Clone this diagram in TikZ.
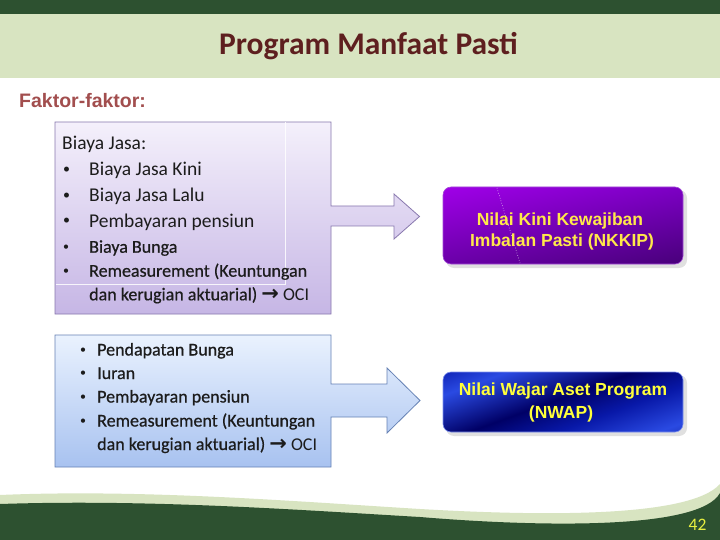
\documentclass[tikz,border=0pt]{standalone}
\usepackage{fontspec}
\usetikzlibrary{shadings}
\setmainfont{Carlito}
\newfontfamily\arialfont{Liberation Sans}
\newfontfamily\heavyfont[FakeBold=0.6]{Carlito}
\newfontfamily\dejavu{DejaVu Sans}
\definecolor{dkgreen}{HTML}{2D5130}
\definecolor{ltgreen}{HTML}{D8E4C1}
\definecolor{titlered}{HTML}{5E1F1F}
\definecolor{faktorred}{HTML}{A24E4E}
\definecolor{lavtop}{HTML}{F4F0FB}
\definecolor{lavbot}{HTML}{C6B6E5}
\definecolor{lavborder}{HTML}{8878AE}
\definecolor{bluetop}{HTML}{EAF2FE}
\definecolor{bluebot}{HTML}{A8C2F0}
\definecolor{blueborder}{HTML}{6682B5}
\definecolor{purA}{HTML}{A000E8}
\definecolor{purB}{HTML}{7C00C4}
\definecolor{purC}{HTML}{6A00A8}
\definecolor{purD}{HTML}{48007A}
\definecolor{nw1}{HTML}{000066}
\definecolor{nw2}{HTML}{2A4AE2}
\definecolor{nw3}{HTML}{0818A8}
\definecolor{yelA}{HTML}{FFE84A}
\definecolor{yelB}{HTML}{FFFF3A}
\definecolor{pagenum}{HTML}{E8F040}
\definecolor{txt}{HTML}{1C1C1C}
\pgfdeclarehorizontalshading{nwapsh}{100bp}{color(0bp)=(nw1); color(22bp)=(nw2); color(38bp)=(nw3); color(52bp)=(nw1); color(72bp)=(nw2); color(86bp)=(nw3); color(100bp)=(nw1)}
\tikzset{
  bodytxt/.style={anchor=base west, inner sep=0pt, text=txt, font=\fontsize{19.5}{23}\selectfont},
  smalltxt/.style={anchor=base west, inner sep=0pt, text=txt, font=\heavyfont\fontsize{18}{21}\selectfont},
  bigbul/.style={anchor=base west, inner sep=0pt, text=txt, font=\fontsize{14}{14}\selectfont},
  smallbul/.style={anchor=base west, inner sep=0pt, text=txt, font=\fontsize{12}{12}\selectfont},
  valtxt/.style={anchor=base, inner sep=0pt, font=\arialfont\bfseries\fontsize{17.5}{21}\selectfont},
}
\newcommand{\ociarrow}{{\dejavu\bfseries\fontsize{21}{21}\selectfont →}}
\begin{document}
\begin{tikzpicture}[x=1pt,y=-1pt]
\useasboundingbox (0,0) rectangle (720,540);
\fill[white] (0,0) rectangle (720,540);
% header
\fill[dkgreen] (0,0) rectangle (720,14);
\fill[ltgreen] (0,14) rectangle (720,78);
\node[font=\bfseries\fontsize{31.5}{36}\selectfont, text=titlered, inner sep=0pt] (title) at (368.5,46) {Program Manfaat Pasti};
\node[anchor=west, inner sep=0pt, font=\arialfont\bfseries\fontsize{19.5}{22}\selectfont, text=faktorred] (faktor) at (19,101) {Faktor-faktor:};
% box 1 with arrow
\path[draw=lavborder, line width=0.8pt, top color=lavtop, bottom color=lavbot]
  (55,122) -- (331,122) -- (331,206) -- (394,206) -- (394,194) -- (419.5,216.5) -- (394,239) -- (394,226) -- (331,226) -- (331,314) -- (55,314) -- cycle;
\draw[white, opacity=0.85, line width=0.7pt] (55.5,284.5) -- (285,284.5) -- (285,122.5);
\node[bodytxt] (b1h) at (62,149.5) {Biaya Jasa:};
\node[bigbul] (b1ab) at (63,174) {•};
\node[bodytxt] (b1a) at (89,176) {Biaya Jasa Kini};
\node[bigbul] (b1bb) at (63,199.5) {•};
\node[bodytxt] (b1b) at (89,201.5) {Biaya Jasa Lalu};
\node[bigbul] (b1cb) at (63,225) {•};
\node[bodytxt] (b1c) at (89,227) {Pembayaran pensiun};
\node[smallbul] (b1db) at (63,250.5) {•};
\node[smalltxt] (b1d) at (89,252.7) {Biaya Bunga};
\node[smallbul] (b1eb) at (63,274.5) {•};
\node[smalltxt] (b1e) at (89,276.7) {Remeasurement (Keuntungan};
\node[smalltxt] (b1f) at (89,300.3) {dan kerugian aktuarial) \ociarrow{} {\rmfamily OCI}};
% box 2 with arrow
\path[draw=blueborder, line width=0.8pt, top color=bluetop, bottom color=bluebot]
  (55,335) -- (331,335) -- (331,384) -- (387,384) -- (387,368) -- (420,400.5) -- (387,433) -- (387,417) -- (331,417) -- (331,467) -- (55,467) -- cycle;
\node[smallbul] (b2ab) at (80,353.3) {•};
\node[smalltxt] (b2a) at (97,355.5) {Pendapatan Bunga};
\node[smallbul] (b2bb) at (80,376.8) {•};
\node[smalltxt] (b2b) at (97,379) {Iuran};
\node[smallbul] (b2cb) at (80,400.3) {•};
\node[smalltxt] (b2c) at (97,402.5) {Pembayaran pensiun};
\node[smallbul] (b2db) at (80,424.3) {•};
\node[smalltxt] (b2d) at (97,426.5) {Remeasurement (Keuntungan};
\node[smalltxt] (b2e) at (97,450) {dan kerugian aktuarial) \ociarrow{} {\rmfamily OCI}};
% NKKIP box
\fill[black, opacity=0.12, rounded corners=8pt] (446,190) rectangle (687,268);
\path[rounded corners=8pt, upper left=purA, upper right=purB, lower left=purC, lower right=purD, draw=purB!70!white, line width=0.6pt] (443,187) rectangle (683,264);
\draw[white, dotted, line width=0.6pt, opacity=0.8] (497,188) -- (520,263);
\node[valtxt, text=yelA] (nk1) at (560,225.5) {Nilai Kini Kewajiban};
\node[valtxt, text=yelA] (nk2) at (562,247) {Imbalan Pasti (NKKIP)};
% NWAP box
\fill[black, opacity=0.12, rounded corners=8pt] (446,375) rectangle (687,436);
\path[rounded corners=8pt, shading=nwapsh, shading angle=110, draw=nw2!60!white, line width=0.6pt] (443,372) rectangle (683,432);
\node[valtxt, text=yelB] (nw1t) at (563,395) {Nilai Wajar Aset Program};
\node[valtxt, text=yelB] (nw2t) at (561,418) {(NWAP)};
% bottom wave
\fill[ltgreen] (0,495) .. controls (140,489) and (290,501) .. (420,509) .. controls (540,516) and (690,518) .. (720,484) -- (720,540) -- (0,540) -- cycle;
\fill[dkgreen] (0,504) .. controls (150,499) and (300,510) .. (420,517) .. controls (540,527) and (700,530) .. (720,493) -- (720,540) -- (0,540) -- cycle;
\node[inner sep=0pt, font=\fontsize{17.5}{20}\selectfont, text=pagenum] (pg) at (697.5,524.5) {42};
\end{tikzpicture}
\end{document}
